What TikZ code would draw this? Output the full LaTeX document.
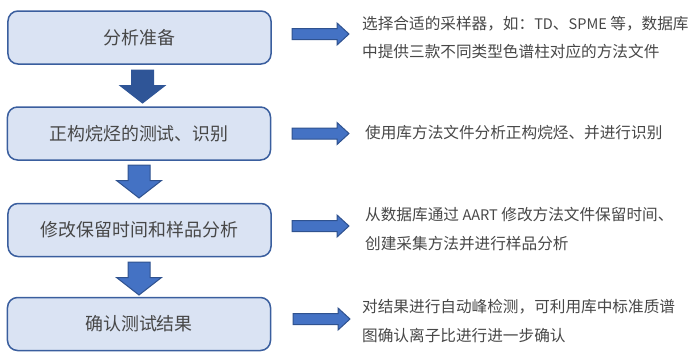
\documentclass[tikz,border=0pt]{standalone}
\usepackage{fontspec}
\setmainfont{Noto Sans CJK SC}
\definecolor{boxfill}{HTML}{DAE3F3}
\definecolor{boxline}{HTML}{3A5E9E}
\definecolor{arrfill}{HTML}{4472C4}
\definecolor{arrline}{HTML}{2F528F}
\definecolor{darkfill}{HTML}{2F5597}
\definecolor{txt}{HTML}{474747}
\newcommand{\latsm}[1]{{\fontsize{14.6}{28.5}\selectfont #1}}
\tikzset{
  box/.style={draw=boxline, fill=boxfill, line width=1.5bp, rounded corners=10bp,
    minimum width=263bp, minimum height=53bp, inner sep=0pt, text=txt,
    font=\fontsize{18}{22}\selectfont},
  desc/.style={anchor=west, inner sep=0pt, align=left, text=txt,
    font=\fontsize{15.7}{28.5}\selectfont},
  arrstyle/.style={draw=arrline, fill=arrfill, line width=1bp, line join=miter},
  darkarr/.style={draw=darkfill, fill=darkfill, line width=1bp, line join=miter},
  rarr/.pic={\path[pic actions] (0,-5.5) -- (45,-5.5) -- (45,-11) -- (57,0) -- (45,11) -- (45,5.5) -- (0,5.5) -- cycle;},
  darr/.pic={\path[pic actions] (-11,0) -- (11,0) -- (11,15.5) -- (22.5,15.5) -- (0,33) -- (-22.5,15.5) -- (-11,15.5) -- cycle;}
}
\begin{document}
\begin{tikzpicture}[x=1bp,y=-1bp]
\useasboundingbox (0,0) rectangle (690,359);
% left boxes
\node[box] (b1) at (139.5,37.5) {分析准备};
\node[box] (b2) at (139,133.5) {正构烷烃的测试、识别};
\node[box] (b3) at (139.5,230) {修改保留时间和样品分析};
\node[box] (b4) at (139,324) {确认测试结果};
% down arrows
\pic[darkarr] at (142.5,70) {darr};
\pic[arrstyle] at (139,165) {darr};
\pic[arrstyle] at (139,262) {darr};
% right arrows
\pic[arrstyle] at (292,34) {rarr};
\pic[arrstyle] at (292,133.5) {rarr};
\pic[arrstyle] at (292,226) {rarr};
\pic[arrstyle] at (293,319) {rarr};
% descriptions
\node[desc] (t1) at (362,37.5) {选择合适的采样器，如：\latsm{TD}、\latsm{SPME} 等，数据库\\中提供三款不同类型色谱柱对应的方法文件};
\node[desc] (t2) at (365,133) {使用库方法文件分析正构烷烃、并进行识别};
\node[desc] (t3) at (365,229) {从数据库通过 \latsm{AART} 修改方法文件保留时间、\\创建采集方法并进行样品分析};
\node[desc] (t4) at (362,321) {对结果进行自动峰检测，可利用库中标准质谱\\图确认离子比进行进一步确认};
\end{tikzpicture}
\end{document}
